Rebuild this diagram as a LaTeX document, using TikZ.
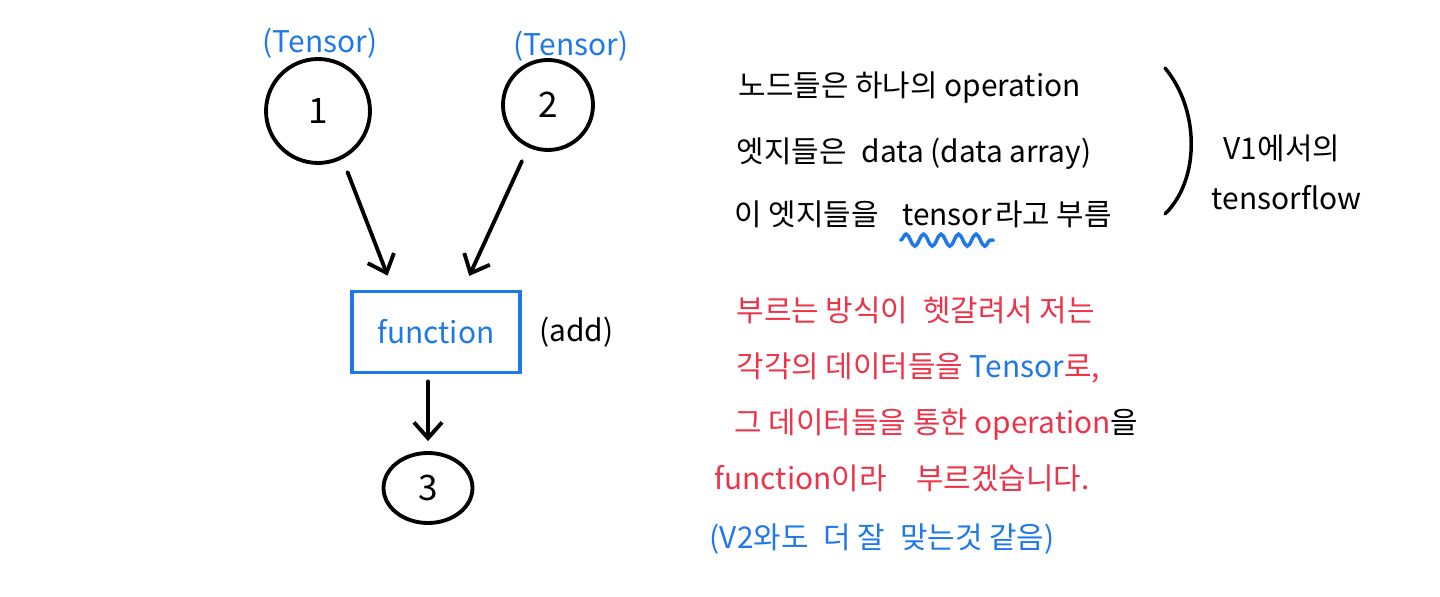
\documentclass[tikz,border=0pt]{standalone}
\usepackage{fontspec}
\setmainfont{Noto Sans CJK KR}
\usetikzlibrary{arrows.meta,positioning,calc,shapes.geometric,decorations.pathmorphing}
\definecolor{penblue}{RGB}{30,120,232}
\definecolor{penred}{RGB}{238,50,72}
\newcommand{\wsp}{\hspace{0.5em}}

\begin{document}
\begin{tikzpicture}[x=0.02cm,y=-0.02cm,>={Straight Barb[length=9pt,width=16pt]},
  line width=2pt,font=\fontsize{17}{20}\selectfont,
  tnode/.style={draw,circle,line width=2.2pt,minimum size=2cm,inner sep=0pt,font=\fontsize{20}{24}\selectfont},
  fnbox/.style={draw=penblue,line width=2.2pt,text=penblue,minimum width=3.36cm,minimum height=1.62cm},
  note/.style={anchor=base west,inner sep=0pt},
  arr/.style={->,line width=2.2pt,line cap=round}]
\useasboundingbox (0,0) rectangle (1440,597);
% graph on the left
\node[tnode,minimum size=2.08cm] (c1) at (318,111) {1};
\node[tnode,minimum size=1.8cm] (c2) at (548,105) {2};
\node[tnode,ellipse,minimum width=1.78cm,minimum height=1.4cm] (c3) at (428,488) {3};
\node[text=penblue] (t1) at (320,43) {(Tensor)};
\node[text=penblue] (t2) at (571,46) {(Tensor)};
\node[fnbox] (fn) at (436,332) {function};
\node[right=0.2cm of fn] (add) {(add)};
\draw[arr,shorten <=0.28cm,shorten >=0.3cm] (c1.-63) -- ($(fn.north)+(-43,0)$);
\draw[arr,shorten <=0.3cm,shorten >=0.3cm] (c2.-115) -- ($(fn.north)+(27,0)$);
\draw[arr,shorten <=0.14cm,shorten >=0.2cm] (fn.south -| c3) -- (c3.north);
% notes on the right
\node[note] (n1) at (737,97) {노드들은 하나의 operation};
\node[note] (n2) at (735,163) {엣지들은\wsp data (data array)};
\node[note] (n3a) at (733,226) {이 엣지들을};
\node[note,base right=0.4cm of n3a] (n3t) {tensor};
\node[note,base right=0pt of n3t] (n3b) {라고 부름};
\draw[penblue,line cap=round,decorate,decoration={snake,amplitude=1.2mm,segment length=3.5mm}]
  ($(n3t.south west)+(0,12)$) -- ($(n3t.south east)+(0,12)$);
\draw[line cap=round] (1165,68) .. controls (1200,110) and (1200,180) .. (1165,214);
\node[note] (v1) at (1222,160) {V1에서의};
\node[note] (tf) at (1210,210) {tensorflow};
\node[note,text=penred] (r1) at (735,322) {부르는 방식이\wsp 헷갈려서 저는};
\node[note,text=penred] (r2) at (735,378) {각각의 데이터들을 \textcolor{penblue}{Tensor}로,};
\node[note,text=penred] (r3) at (733,434) {그 데이터들을 통한 operation\textcolor{black}{을}};
\node[note,text=penred] (r4) at (713,490) {function이라\hspace{1em}부르겠습니다.};
\node[note,text=penblue] (r5) at (708,548) {(V2와도\wsp 더 잘\wsp 맞는것 같음)};
\end{tikzpicture}
\end{document}
